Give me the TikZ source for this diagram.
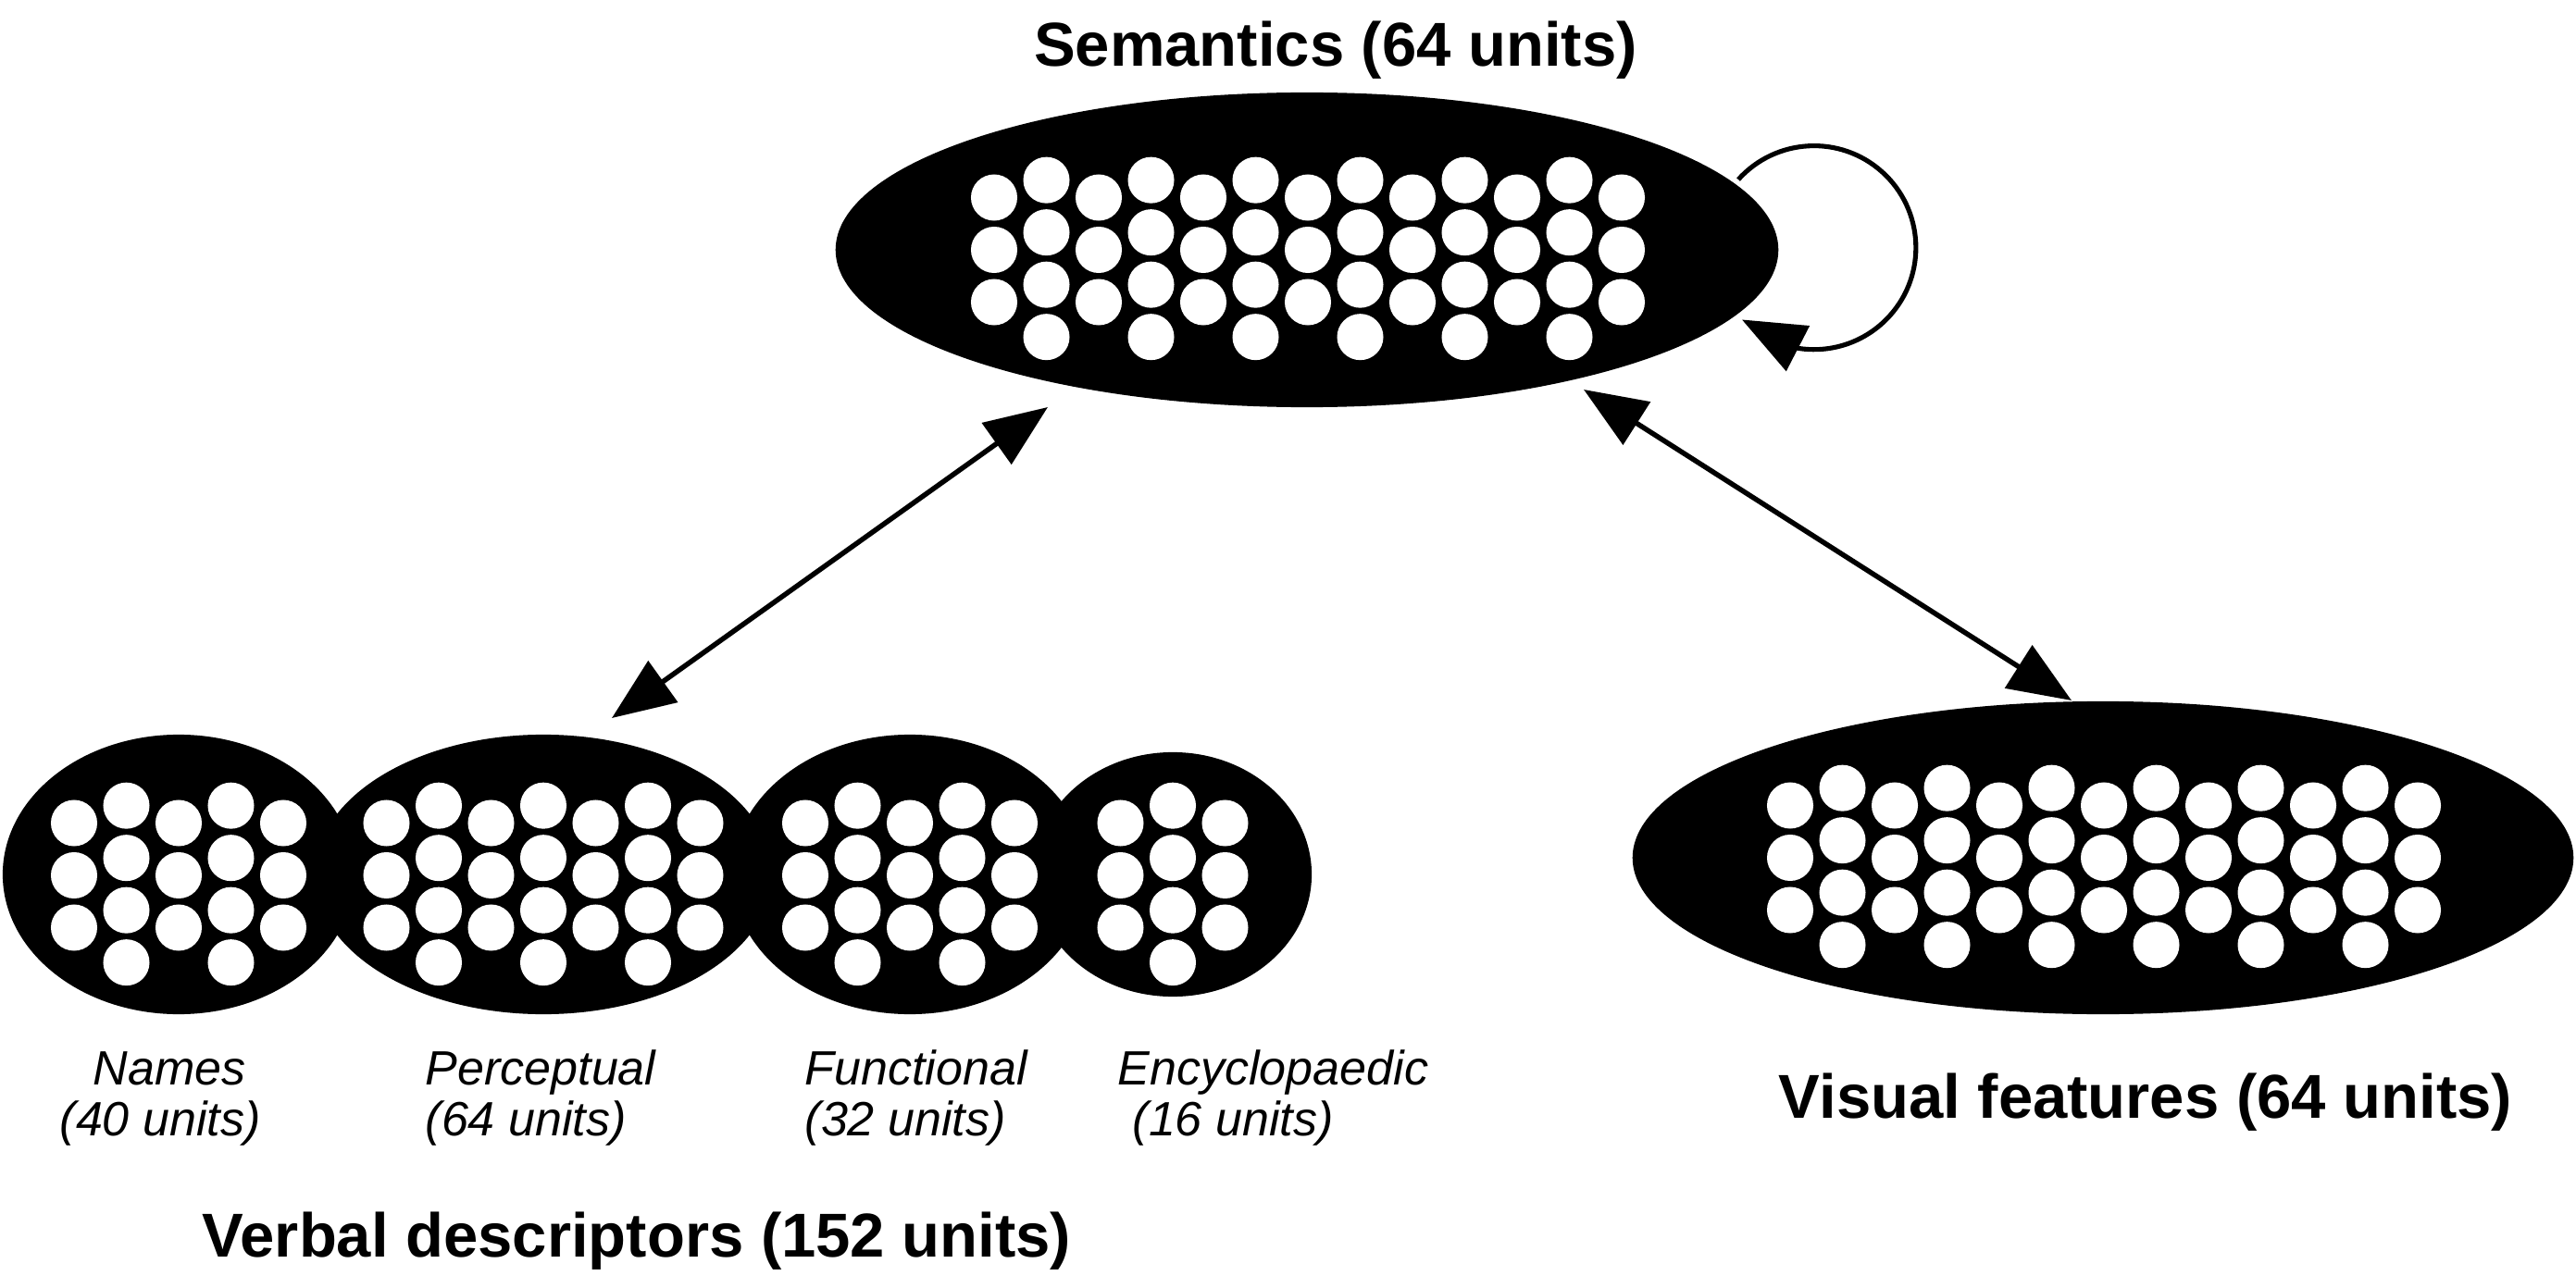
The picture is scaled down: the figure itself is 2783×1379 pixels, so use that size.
\documentclass[tikz,border=0pt]{standalone}
\usepackage{fontspec}
\setmainfont{Liberation Sans}
\usetikzlibrary{shapes.geometric,arrows.meta,bending}
\tikzset{
  blob/.style={ellipse, fill=black, draw=none, inner sep=0pt},
  unit/.style={circle, fill=white, draw=none, inner sep=0pt, minimum size=0.5cm},
  headline/.style={font=\fontsize{19.06pt}{22pt}\selectfont\bfseries, inner sep=0pt, anchor=base},
  lab/.style={font=\fontsize{14.8pt}{16pt}\selectfont\itshape, inner sep=0pt, anchor=base west},
  bigtip/.tip={Triangle[length=0.68cm,width=0.54cm]},
  link/.style={line width=1.55pt, bigtip-bigtip},
  selfloop/.style={line width=1.45pt, -bigtip},
}
% #1 name, #2 cx, #3 cy, #4 half number of columns, #5 parity of the 3-unit columns
\newcommand\unitgrid[5]{%
  \foreach \ucol in {-#4,...,#4}{%
    \pgfmathtruncatemacro\upty{mod(abs(\ucol)+#5,2)}%
    \ifnum\upty=0
      \foreach \urow in {-1,0,1}{%
        \node[unit] (#1c\ucol r\urow) at ({#2+\ucol*56.5},{#3+\urow*56.5}) {};}%
    \else
      \foreach \urow in {-4,-1,2,5}{%
        \node[unit] (#1c\ucol r\urow) at ({#2+\ucol*56.5},{#3+\urow*56.5/3}) {};}%
    \fi
  }%
}
\begin{document}
\begin{tikzpicture}[x=0.01cm,y=-0.01cm]
\useasboundingbox (0,0) rectangle (2783,1379);
% layers
\node[blob, minimum width=10.18cm, minimum height=3.40cm] (sem) at (1412,270) {};
\node[blob, minimum width=10.16cm, minimum height=3.38cm] (vis) at (2272,927) {};
\node[blob, minimum width=3.80cm, minimum height=3.02cm] (nam) at (193,945) {};
\node[blob, minimum width=4.94cm, minimum height=3.02cm] (per) at (587,945) {};
\node[blob, minimum width=3.84cm, minimum height=3.02cm] (fun) at (983,945) {};
\node[blob, minimum width=3.00cm, minimum height=2.64cm] (enc) at (1267,945) {};
% units
\unitgrid{sem}{1413}{270}{6}{0}
\unitgrid{vis}{2273}{927}{6}{0}
\unitgrid{nam}{193}{946}{2}{0}
\unitgrid{per}{587}{946}{3}{1}
\unitgrid{fun}{983}{946}{2}{0}
\unitgrid{enc}{1267}{946}{1}{1}
% titles
\node[headline] (semt) at (1443,72) {Semantics (64 units)};
\node[headline] (vist) at (2318,1208) {Visual features (64 units)};
\node[headline] (vert) at (688,1358) {Verbal descriptors (152 units)};
% labels
\node[lab] (naml1) at (100,1172) {Names};
\node[lab] (naml2) at (64,1227) {(40 units)};
\node[lab] (perl1) at (459,1172) {Perceptual};
\node[lab] (perl2) at (459,1227) {(64 units)};
\node[lab] (funl1) at (869,1172) {Functional};
\node[lab] (funl2) at (869,1227) {(32 units)};
\node[lab] (encl1) at (1207,1172) {Encyclopaedic};
\node[lab] (encl2) at (1223,1227) {(16 units)};
% connectors
\coordinate (perTip) at (661,776);
\coordinate (semTipL) at (1132,440);
\coordinate (semTipR) at (1711,421);
\coordinate (visTip) at (2238,757);
\coordinate (loopS) at (1878,194);
\draw[link] (perTip) -- (semTipL);
\draw[link] (semTipR) -- (visTip);
\draw[selfloop] (loopS) arc[start angle=138, end angle=-135, radius=1.1cm];
\end{tikzpicture}
\end{document}
